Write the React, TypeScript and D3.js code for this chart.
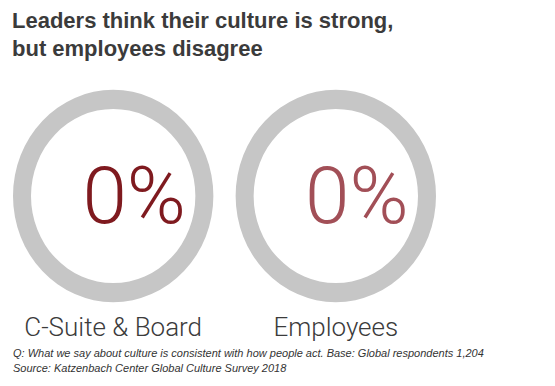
import * as d3 from 'd3';
import { useEffect, useRef } from 'react';

const categories = ['C-Suite & Board', 'Employees'];
const values = [0, 0];
const valueColors = ['#7f1a1f', '#a24f57'];
const titleLines = ['Leaders think their culture is strong,', 'but employees disagree'];
const footnotes = [
    'Q: What we say about culture is consistent with how people act. Base: Global respondents 1,204',
    'Source: Katzenbach Center Global Culture Survey 2018',
];

function App() {
    const ref = useRef<SVGSVGElement>(null);

    useEffect(() => {
        const width = 555, height = 386;
        const svg = d3.select(ref.current);
        svg.selectAll('*').remove();
        svg.attr('width', width).attr('height', height);

        const font = "'Liberation Sans', Arial, sans-serif";

        // title
        svg.append('g')
            .selectAll('text')
            .data(titleLines)
            .join('text')
            .attr('x', 12)
            .attr('y', (d, i) => 28 + i * 27.5)
            .attr('font-family', font)
            .attr('font-weight', 'bold')
            .attr('font-size', 22)
            .attr('fill', '#3b3b3b')
            .text(d => d);

        const x = d3.scaleBand<string>()
            .domain(categories)
            .range([13, 436])
            .paddingInner(0.1);

        const outer = x.bandwidth() / 2;
        const inner = outer - 18;
        const cy = 196;
        const squash = 1.06;

        const pct = d3.scaleLinear().domain([0, 100]).range([0, 2 * Math.PI]);
        const arc = d3.arc<any>().innerRadius(inner).outerRadius(outer);

        const g = svg.append('g')
            .selectAll('g')
            .data(categories)
            .join('g')
            .attr('transform', d => `translate(${x(d)! + outer}, ${cy})`);

        const ring = g.append('g').attr('transform', `scale(1, ${squash})`);
        ring.append('path')
            .attr('fill', '#c6c6c6')
            .attr('d', () => arc({ startAngle: 0, endAngle: 2 * Math.PI }));
        ring.append('path')
            .attr('fill', (d, i) => valueColors[i])
            .attr('d', (d, i) => arc({ startAngle: 0, endAngle: pct(values[i]) }));

        g.append('text')
            .attr('x', 21)
            .attr('y', 27)
            .attr('text-anchor', 'middle')
            .attr('font-family', "Roboto, 'Liberation Sans', sans-serif")
            .attr('font-weight', 300)
            .attr('font-size', 80)
            .attr('fill', (d, i) => valueColors[i])
            .text((d, i) => `${values[i]}%`);

        // category labels
        svg.append('g')
            .selectAll('text')
            .data(categories)
            .join('text')
            .attr('x', d => x(d)! + outer)
            .attr('y', 336)
            .attr('text-anchor', 'middle')
            .attr('font-family', "Roboto, 'Liberation Sans', sans-serif")
            .attr('font-weight', 300)
            .attr('font-size', 26)
            .attr('fill', '#3b3b3b')
            .text(d => d);

        // footnotes
        svg.append('g')
            .selectAll('text')
            .data(footnotes)
            .join('text')
            .attr('x', 13)
            .attr('y', (d, i) => 357 + i * 15)
            .attr('font-family', font)
            .attr('font-style', 'italic')
            .attr('font-size', 11)
            .attr('fill', '#333')
            .text(d => d);
    }, []);

    return (
        <svg ref={ref} style={{ position: 'absolute', left: 0, top: 0 }} />
    );
}

export default App;
